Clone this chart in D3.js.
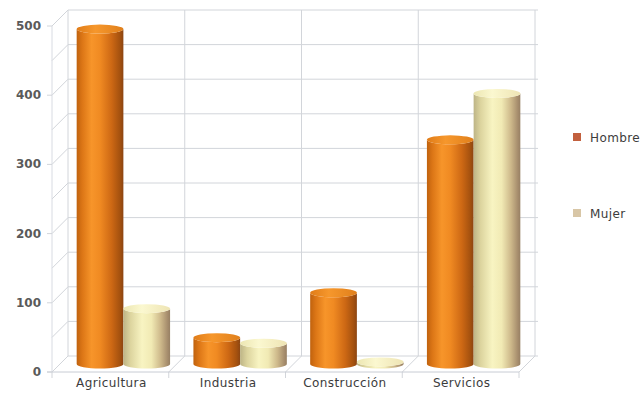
<!DOCTYPE html>
<html>
<head>
<meta charset="utf-8">
<script src="https://cdn.jsdelivr.net/npm/d3@7"></script>
<style>
  html, body { margin: 0; padding: 0; background: #fff; }
  svg { display: block; }
  text { font-family: "DejaVu Sans", sans-serif; }
</style>
</head>
<body>
<svg id="chart" width="643" height="394"></svg>
<script>
// Employment by sector and sex (thousands)
const categories = ["Agricultura", "Industria", "Construcción", "Servicios"];
const seriesNames = ["Hombre", "Mujer"];
const hombre = [484, 38, 103, 324];
const mujer = [80, 30, 3, 391];
const yTicks = [0, 100, 200, 300, 400, 500];
const gridStep = [0, 50, 100, 150, 200, 250, 300, 350, 400, 450, 500];

const svg = d3.select("#chart");

// front plane scales
const x = d3.scaleBand().domain(categories).range([52, 519]).paddingInner(0).paddingOuter(0);
const y = d3.scaleLinear().domain([0, 500]).range([372, 26]);
const depth = { dx: 16, dy: -16 };   // offset from front plane to back wall
const barDepth = { dx: 13, dy: -8 }; // offset of cylinder axis from front plane
const sub = d3.scaleBand().domain(seriesNames).range([0, x.bandwidth()]).paddingOuter(0.25).paddingInner(0);

const defs = svg.append("defs");
function grad(id, stops) {
  const g = defs.append("linearGradient").attr("id", id).attr("x1", "0").attr("x2", "1").attr("y1", "0").attr("y2", "0");
  stops.forEach(([o, c]) => g.append("stop").attr("offset", o).attr("stop-color", c));
}
grad("gH", [[0, "#c0620e"], [0.12, "#dc7616"], [0.32, "#f7952a"], [0.5, "#f08a22"], [0.75, "#cd6814"], [0.92, "#a6520f"], [1, "#8c4512"]]);
grad("gM", [[0, "#bdb486"], [0.15, "#dcd49e"], [0.4, "#f8f4c2"], [0.6, "#f1eab4"], [0.8, "#cdb88a"], [0.95, "#a58c6c"], [1, "#978064"]]);
grad("tH", [[0, "#e07c18"], [0.4, "#f6972c"], [1, "#e0801c"]]);
grad("tM", [[0, "#ece6b2"], [0.4, "#fbf8d0"], [1, "#eee4b4"]]);

const grid = svg.append("g").attr("stroke", "#d2d5da").attr("stroke-width", 1).attr("fill", "none");
const x0 = x.range()[0], x1 = x.range()[1];
const bounds = categories.map(c => x(c)).concat([x1]);

// back wall horizontal grid and side wall diagonals
gridStep.forEach(v => {
  grid.append("line")
    .attr("x1", x0 + depth.dx).attr("x2", x1 + depth.dx + 3)
    .attr("y1", y(v) + depth.dy).attr("y2", y(v) + depth.dy);
  grid.append("line")
    .attr("x1", x0).attr("y1", y(v))
    .attr("x2", x0 + depth.dx).attr("y2", y(v) + depth.dy);
});
// back wall verticals, floor diagonals, category ticks
bounds.forEach(b => {
  grid.append("line")
    .attr("x1", b + depth.dx).attr("x2", b + depth.dx)
    .attr("y1", y(500) + depth.dy).attr("y2", y(0) + depth.dy);
  grid.append("line")
    .attr("x1", b).attr("y1", y(0))
    .attr("x2", b + depth.dx).attr("y2", y(0) + depth.dy);
  grid.append("line")
    .attr("x1", b).attr("x2", b)
    .attr("y1", y(0)).attr("y2", y(0) + 6);
});
// front axis lines
grid.append("line").attr("x1", x0).attr("x2", x0).attr("y1", y(0)).attr("y2", y(500)).attr("stroke", "#d8dbe2");
grid.append("line").attr("x1", x0 - 5).attr("x2", x1).attr("y1", y(0)).attr("y2", y(0)).attr("stroke", "#c8ccd4");
yTicks.forEach(v => {
  grid.append("line").attr("x1", x0 - 5).attr("x2", x0).attr("y1", y(v)).attr("y2", y(v));
});

// y tick labels
svg.append("g").selectAll("text").data(yTicks).join("text")
  .attr("x", 41).attr("y", d => y(d) + 4)
  .attr("text-anchor", "end")
  .attr("font-size", 12).attr("font-weight", "bold").attr("fill", "#5a5a5a")
  .text(d => d);

// category labels
svg.append("g").selectAll("text").data(categories).join("text")
  .attr("x", d => x(d) + x.bandwidth() / 2 + 1).attr("y", 387)
  .attr("text-anchor", "middle")
  .attr("font-size", 12).attr("letter-spacing", 0.4).attr("fill", "#3c3c3c")
  .text(d => d);

// cylinders
const data = [];
categories.forEach((c, i) => {
  data.push({ cat: c, s: "Hombre", v: hombre[i], body: "url(#gH)", top: "url(#tH)" });
  data.push({ cat: c, s: "Mujer", v: mujer[i], body: "url(#gM)", top: "url(#tM)" });
});
const ry = 4.5;
const bars = svg.append("g");
data.forEach(d => {
  const left = x(d.cat) + sub(d.s) + barDepth.dx;
  const w = sub.bandwidth();
  const rx = w / 2;
  const cx = left + rx;
  const yb = y(0) + barDepth.dy;
  const yt = y(d.v) + barDepth.dy;
  const path = `M${left},${yt} L${left},${yb} A${rx},${ry} 0 0 0 ${left + w},${yb} L${left + w},${yt} A${rx},${ry} 0 0 1 ${left},${yt} Z`;
  bars.append("path").attr("d", path).attr("fill", d.body);
  bars.append("ellipse").attr("cx", cx).attr("cy", yt).attr("rx", rx).attr("ry", ry).attr("fill", d.top);
});

// legend
const colors = { Hombre: "#c2603e", Mujer: "#d8c6a6" };
const lg = svg.append("g");
seriesNames.forEach((s, i) => {
  const ly = 133 + i * 76;
  lg.append("rect").attr("x", 573).attr("y", ly).attr("width", 8).attr("height", 8).attr("fill", colors[s]);
  lg.append("text").attr("x", 590).attr("y", ly + 8.5).attr("font-size", 12).attr("letter-spacing", 0.4).attr("fill", "#3c3c3c").text(s);
});
</script>
</body>
</html>
